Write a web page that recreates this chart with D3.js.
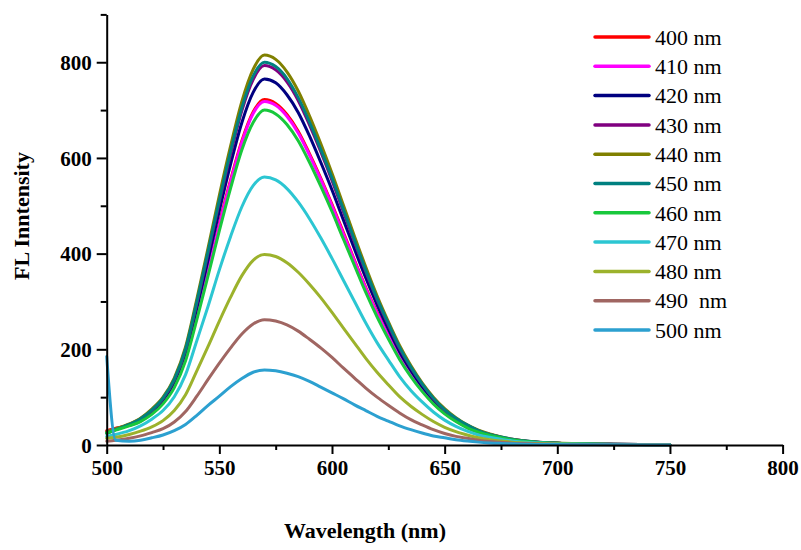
<!DOCTYPE html>
<html>
<head>
<meta charset="utf-8">
<script src="https://cdn.jsdelivr.net/npm/d3@7"></script>
<style>
  html, body { margin: 0; padding: 0; background: #fff; }
  svg { display: block; }
  text { font-family: "Liberation Serif", "Times New Roman", serif; }
</style>
</head>
<body>
<script>
// ---------- data ----------
const wavelengths = [500,504,510,515,520,525,530,535,540,545,550,555,560,565,570,575,580,585,590,595,600,605,610,615,620,625,630,635,640,645,650,655,660,665,670,675,680,685,690,695,700,725,750];

const s400 = [30,35,41,51,67,89,124,182,270,365,463,554,636,696,722,714,691,656,609,558,503,445,386,329,277,229,184,147,116,89,67,51,37,27,20,15,11,7.9,5.8,4.3,3.5,1.3,0.4];
const s410 = [28,34,41,50,66,88,123,181,269,363,460,551,633,693,718,710,687,652,606,555,500,442,384,327,275,228,183,146,115,88,67,50,37,27,20,15,10.8,7.9,5.7,4.3,3.5,1.3,0.4];
const s420 = [26,33,42,53,70,94,132,193,286,387,490,587,674,737,765,757,732,695,646,591,533,471,409,349,293,242,195,156,122,94,71,54,39,29,22,16,11,8.4,6.1,4.6,3.7,1.4,0.5];
const s430 = [25,32,43,55,72,97,136,199,296,401,508,608,699,764,793,784,759,720,669,613,553,488,424,362,304,251,202,162,127,97,73,55,41,30,22,16.5,12,8.7,6.3,4.8,3.9,1.4,0.5];
const s440 = [28,34,44,56,75,100,140,205,305,412,522,625,718,785,815,806,780,740,688,630,568,502,436,372,312,258,208,166,130,100,76,57,42,31,23,17,12,9,6.5,5,4,1.5,0.5];
const s450 = [24,32,43,55,73,98,137,201,299,405,512,614,705,771,800,791,766,726,675,618,558,493,428,365,306,254,204,163,128,98,74,56,42,30,22,17,12,8.8,6.4,4.8,3.9,1.4,0.5];
const s460 = [25,31,40,49,64,86,120,176,262,354,448,537,617,674,700,692,670,636,591,541,488,431,375,319,268,222,179,143,112,86,65,49,36,27,20,15,10.5,7.7,5.6,4.2,3.4,1.3,0.4];
const s470 = [18,22,30,40,54,72,101,147,218,290,366,436,498,542,560,554,536,508,473,433,390,345,300,255,214,178,143,114,90,69,52,39,29,21,16,12,8.4,6.2,4.5,3.4,2.8,1,0.3];
const s480 = [14,16,22,29,38,51,72,105,155,206,259,309,354,386,398,394,381,361,336,308,277,245,213,181,152,126,101,81,64,49,37,28,21,15,11,8.4,6,4.4,3.2,2.4,2,0.7,0.2];
const s490 = [8,10,14,19,26,34,48,70,102,137,171,203,232,253,262,259,251,238,221,203,183,161,140,119,100,83,67,53,42,32,24,18,14,10,7.3,5.5,3.9,2.9,2.1,1.6,1.3,0.5,0.2];
const s500 = [185,10,8,10,15,21,30,43,62,83,102,122,139,152,157,155,150,143,133,121,109,97,84,72,60,50,40,32,25,19,15,11,8.2,6,4.4,3.3,2.4,1.7,1.3,0.9,0.8,0.3,0.1];

const seriesLabels = ["400 nm","410 nm","420 nm","430 nm","440 nm","450 nm","460 nm","470 nm","480 nm","490  nm","500 nm"];
const seriesValues = [s400,s410,s420,s430,s440,s450,s460,s470,s480,s490,s500];
const seriesColors = ["#ff0000","#ff00ff","#000080","#800080","#808000","#008080","#18c83c","#2cc6d2","#9cb22c","#a06662","#2ca0d0"];

const xMajorTicks = [500,550,600,650,700,750,800];
const xMinorTicks = [525,575,625,675,725,775];
const yMajorTicks = [0,200,400,600,800];
const yMinorTicks = [100,300,500,700,900];

// ---------- layout ----------
const W = 801, H = 550;
const svg = d3.select("body").append("svg").attr("width", W).attr("height", H);

const x = d3.scaleLinear().domain([500, 800]).range([106.7, 782.6]);
const y = d3.scaleLinear().domain([0, 900]).range([445, 14.4]);

// curves
const line = d3.line()
  .x((d, i) => x(wavelengths[i]))
  .y(d => y(d))
  .curve(d3.curveMonotoneX);

svg.append("g").selectAll("path")
  .data(seriesValues)
  .join("path")
  .attr("d", d => line(d))
  .attr("fill", "none")
  .attr("stroke", (d, i) => seriesColors[i])
  .attr("stroke-width", 3)
  .attr("stroke-linejoin", "round")
  .attr("stroke-linecap", "round");

// axes
const fmt = d3.format("d");
const xAxis = svg.append("g").attr("transform", `translate(0,${y(0)})`)
  .call(d3.axisBottom(x).tickValues(xMajorTicks).tickSize(9).tickSizeOuter(0).tickFormat(fmt));
const xMinor = svg.append("g").attr("transform", `translate(0,${y(0)})`)
  .call(d3.axisBottom(x).tickValues(xMinorTicks).tickSize(5).tickSizeOuter(0).tickFormat(""));
const yAxis = svg.append("g").attr("transform", `translate(${x(500)},0)`)
  .call(d3.axisLeft(y).tickValues(yMajorTicks).tickSize(10).tickSizeOuter(0).tickFormat(fmt));
const yMinor = svg.append("g").attr("transform", `translate(${x(500)},0)`)
  .call(d3.axisLeft(y).tickValues(yMinorTicks).tickSize(6).tickSizeOuter(0).tickFormat(""));

[xAxis, xMinor, yAxis, yMinor].forEach(g => {
  g.selectAll("path.domain").attr("stroke", "#000").attr("stroke-width", 2);
  g.selectAll(".tick line").attr("stroke", "#000").attr("stroke-width", 2);
});
xMinor.select("path.domain").remove();
yMinor.select("path.domain").remove();

xAxis.selectAll(".tick text")
  .attr("y", 15).attr("dy", "0.71em")
  .style("font-family", "'Liberation Serif', serif")
  .style("font-weight", "bold").style("font-size", "21px").attr("fill", "#000");
yAxis.selectAll(".tick text")
  .attr("x", -15).attr("dy", "0.34em")
  .style("font-family", "'Liberation Serif', serif")
  .style("font-weight", "bold").style("font-size", "21px").attr("fill", "#000");

// axis titles
svg.append("text")
  .attr("x", 365).attr("y", 538)
  .attr("text-anchor", "middle")
  .style("font-weight", "bold").style("font-size", "22px")
  .text("Wavelength (nm)");

svg.append("text")
  .attr("transform", "translate(29,216) rotate(-90)")
  .attr("text-anchor", "middle")
  .style("font-weight", "bold").style("font-size", "22px")
  .text("FL Inntensity");

// legend
const legend = svg.append("g");
const rows = legend.selectAll("g").data(seriesLabels).join("g")
  .attr("transform", (d, i) => `translate(0,${37 + i * 29.3})`);
rows.append("line")
  .attr("x1", 595).attr("x2", 649).attr("y1", 0).attr("y2", 0)
  .attr("stroke", (d, i) => seriesColors[i])
  .attr("stroke-width", 3.5).attr("stroke-linecap", "round");
rows.append("text")
  .attr("x", 655).attr("y", 0).attr("dy", "0.35em")
  .style("font-size", "22px").style("white-space", "pre")
  .attr("xml:space", "preserve")
  .text(d => d);
</script>
</body>
</html>
